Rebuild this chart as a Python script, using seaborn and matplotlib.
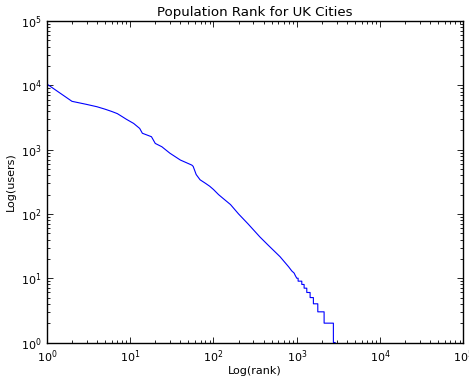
import matplotlib
matplotlib.use("Agg")
import matplotlib.pyplot as plt
from matplotlib.ticker import LogLocator, NullFormatter
import seaborn as sns
import numpy as np

# Rank / population values
ranks = [1, 2, 3, 4, 5, 6, 7, 8, 9, 11, 13, 14, 18, 20, 24, 30, 40,
         55, 57, 62, 69, 80, 90, 100, 115, 130, 160, 200, 260, 360, 450, 630,
         800, 870, 930, 960,
         1000, 1037, 1038, 1148, 1149, 1224, 1225, 1318, 1319, 1445, 1446, 1582,
         1583, 1787, 1788, 2128, 2129, 2750, 2751, 2900]
users = [10500, 5650, 5060, 4650, 4260, 3930, 3640, 3270, 2970, 2560, 2140, 1800, 1590, 1250, 1110, 880, 690,
         575, 550, 410, 340, 300, 270, 240, 200, 175, 140, 100, 70, 44, 33, 21.6,
         15, 13, 12, 11,
         10, 10, 9, 9, 8, 8, 7, 7, 6, 6, 5, 5,
         4, 4, 3, 3, 2, 2, 1, 1]

title = "Population Rank for UK Cities"
xlabel = "Log(rank)"
ylabel = "Log(users)"

sns.set_theme(style="white")
plt.rcParams.update({
    "font.family": ["DejaVu Sans"],
    "font.size": 8,
    "text.color": "black", "axes.labelcolor": "black",
    "xtick.direction": "in", "ytick.direction": "in",
    "xtick.top": True, "ytick.right": True,
    "xtick.bottom": True, "ytick.left": True,
    "xtick.major.pad": 4, "ytick.major.pad": 4,
    "xtick.labelsize": 8, "ytick.labelsize": 8,
    "xtick.color": "black", "ytick.color": "black",
    "axes.edgecolor": "black", "axes.linewidth": 1.0,
})

fig = plt.figure(figsize=(4.69, 3.79), dpi=100)
ax = fig.add_axes([0.100, 0.0963, 0.888, 0.848])
ax.set_xscale("log")
ax.set_yscale("log")
sns.lineplot(x=ranks, y=users, sort=False, estimator=None, color="#0000ff", lw=0.8, ax=ax)
ax.set_xlim(1, 1e5)
ax.set_ylim(1, 1e5)
for axis in (ax.xaxis, ax.yaxis):
    axis.set_major_locator(LogLocator(base=10, numticks=10))
    axis.set_minor_locator(LogLocator(base=10, subs=np.arange(2, 10), numticks=100))
    axis.set_minor_formatter(NullFormatter())
ax.tick_params(which="both", direction="in", top=True, right=True, bottom=True, left=True, colors="black")
ax.tick_params(which="minor", length=2, width=0.6)
ax.tick_params(which="major", length=4, width=0.6)
ax.set_title(title, fontsize=9.6, pad=4, color="black")
ax.set_xlabel(xlabel, fontsize=8, labelpad=1, color="black")
ax.set_ylabel(ylabel, fontsize=8, labelpad=3, color="black")
for s in ax.spines.values():
    s.set_visible(True)
    s.set_color("black")
fig.savefig("out.png", dpi=100, facecolor="white")
